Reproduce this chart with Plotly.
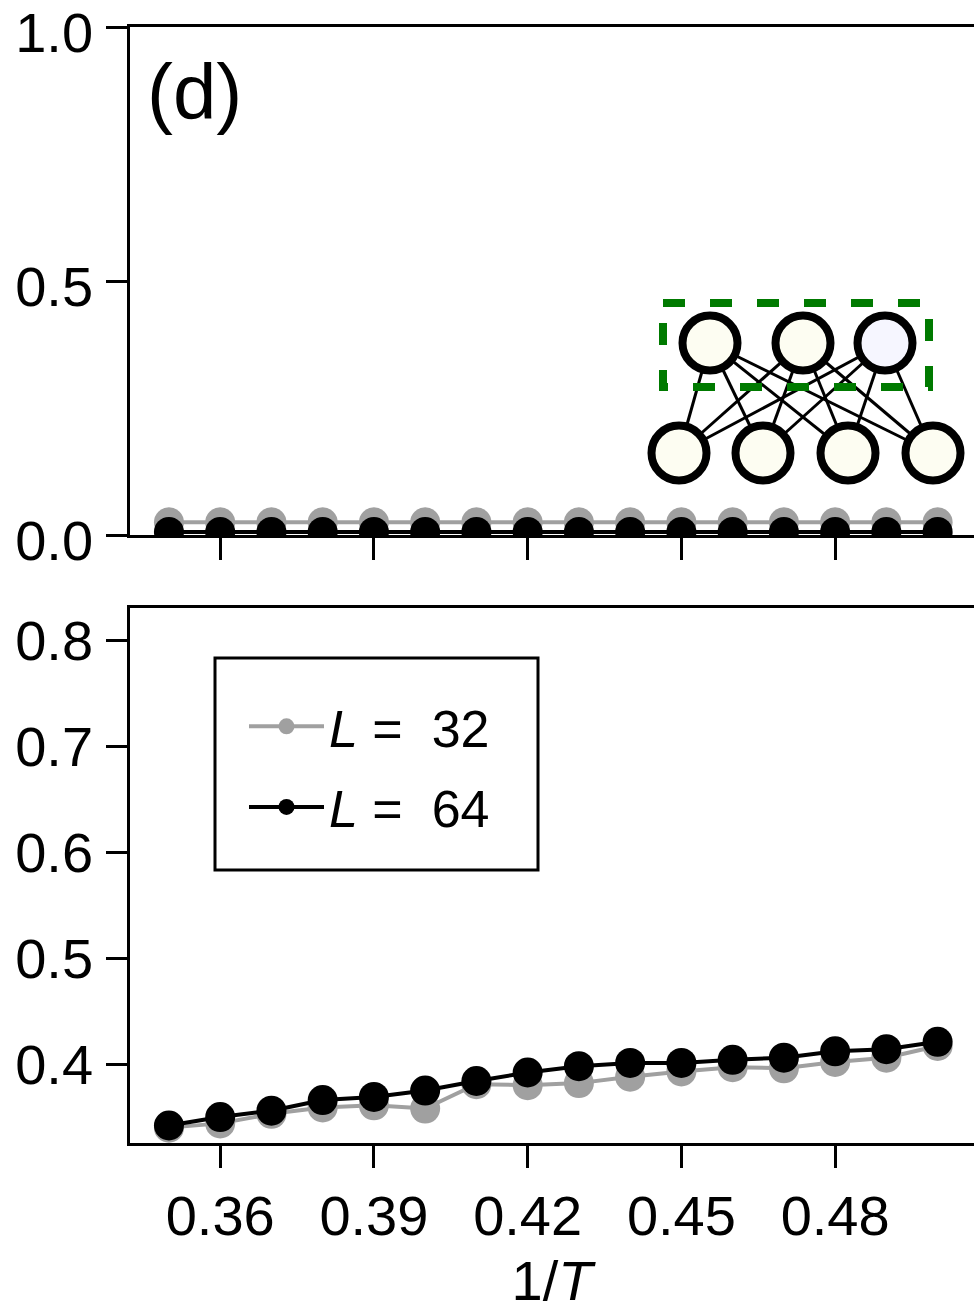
import plotly.graph_objects as go

# ---------------- data ----------------
inv_T = [0.35, 0.36, 0.37, 0.38, 0.39, 0.40, 0.41, 0.42,
         0.43, 0.44, 0.45, 0.46, 0.47, 0.48, 0.49, 0.50]

# top panel (d)
top_L32 = [0.025] * 16
top_L64 = [0.006] * 16

# bottom panel
bot_L32 = [0.340, 0.344, 0.353, 0.359, 0.361, 0.358, 0.381, 0.380,
           0.382, 0.388, 0.393, 0.397, 0.396, 0.402, 0.406, 0.417]
bot_L64 = [0.342, 0.350, 0.356, 0.366, 0.369, 0.375, 0.384, 0.392,
           0.398, 0.401, 0.401, 0.404, 0.406, 0.412, 0.414, 0.421]

series_names = ["<i>L</i> = \u00a032", "<i>L</i> = \u00a064"]
series_colors = ["#a0a0a0", "#000000"]

x_tickvals = [0.36, 0.39, 0.42, 0.45, 0.48]
x_ticktext = ["0.36", "0.39", "0.42", "0.45", "0.48"]
top_yticks = [0.0, 0.5, 1.0]
top_yticktext = ["0.0", "0.5", "1.0"]
bot_yticks = [0.4, 0.5, 0.6, 0.7, 0.8]
bot_yticktext = ["0.4", "0.5", "0.6", "0.7", "0.8"]

# network inset (inset units)
net_top_x = [0.70, 1.63, 2.45]
net_top_y = [1.10, 1.10, 1.10]
net_top_fill = ["#fdfdf2", "#fdfdf2", "#f6f6ff"]
net_bot_x = [0.39, 1.23, 2.08, 2.93]
net_bot_y = [0.0, 0.0, 0.0, 0.0]
net_bot_fill = ["#fdfdf2"] * 4
box_x = [0.23, 2.89, 2.89, 0.23, 0.23]
box_y = [1.50, 1.50, 0.66, 0.66, 1.50]

FONT = "Liberation Sans, Arial, sans-serif"
fig = go.Figure()

# ---------- top panel ----------
for vals, name, col in zip([top_L32, top_L64], series_names, series_colors):
    fig.add_trace(go.Scatter(
        x=inv_T, y=vals, mode="lines+markers", name=name,
        line=dict(color=col, width=4), marker=dict(color=col, size=30),
        xaxis="x", yaxis="y", showlegend=False, cliponaxis=True))

# ---------- bottom panel ----------
for i, (vals, name, col) in enumerate(zip([bot_L32, bot_L64], series_names, series_colors)):
    fig.add_trace(go.Scatter(
        x=inv_T, y=vals, mode="lines+markers", name=name,
        legendgroup="g%d" % i,
        line=dict(color=col, width=4), marker=dict(color=col, size=30),
        xaxis="x2", yaxis="y2", showlegend=True, cliponaxis=False))

# ---------- network inset ----------
ex, ey = [], []
for tx, ty in zip(net_top_x, net_top_y):
    for bx, by in zip(net_bot_x, net_bot_y):
        ex += [tx, bx, None]
        ey += [ty, by, None]
fig.add_trace(go.Scatter(x=ex, y=ey, mode="lines", line=dict(color="black", width=3),
                         xaxis="x3", yaxis="y3", showlegend=False, hoverinfo="skip"))
fig.add_trace(go.Scatter(x=box_x, y=box_y, mode="lines",
                         line=dict(color="#007a00", width=8, dash="22px,25px"),
                         xaxis="x3", yaxis="y3", showlegend=False, hoverinfo="skip"))
fig.add_trace(go.Scatter(x=net_top_x + net_bot_x, y=net_top_y + net_bot_y, mode="markers",
                         marker=dict(size=55, color=net_top_fill + net_bot_fill,
                                     line=dict(color="black", width=8)),
                         xaxis="x3", yaxis="y3", showlegend=False, hoverinfo="skip",
                         cliponaxis=False))

W, H = 974, 1312
L, R, T, B = 130, 0, 27, 169
ph = H - T - B  # 1116
pw = W - L - R  # 844

def py(pix):
    return (H - B - pix) / ph

def px(pix):
    return (pix - L) / pw

axis_common = dict(showline=True, linecolor="black", linewidth=2.5,
                   ticks="outside", tickwidth=2.5, tickcolor="black",
                   showgrid=False, zeroline=False, ticklabeloverflow="allow",
                   automargin=False,
                   tickfont=dict(family=FONT, size=56, color="black"))

fig.update_layout(
    width=W, height=H,
    margin=dict(l=L, r=R, t=T, b=B, pad=0, autoexpand=False),
    paper_bgcolor="white", plot_bgcolor="white",
    font=dict(family=FONT, color="black"),
    xaxis=dict(domain=[0, 1], range=[0.3424, 0.5071], anchor="y", mirror=True,
               tickvals=x_tickvals, showticklabels=False, ticklen=22, **axis_common),
    yaxis=dict(domain=[py(535), 1.0], range=[0, 1.0], anchor="x",
               tickvals=top_yticks, ticktext=top_yticktext, ticklen=21,
               ticklabelstandoff=2, ticklabelshift=5, **axis_common),
    xaxis2=dict(domain=[0, 1], range=[0.3424, 0.5071], anchor="y2", mirror=True,
                tickvals=x_tickvals, ticktext=x_ticktext, ticklen=22,
                ticklabelstandoff=0,
                title=dict(text="1/<i>T</i>", font=dict(family=FONT, size=56), standoff=46),
                **axis_common),
    yaxis2=dict(domain=[0, py(608)], range=[0.3255, 0.8302], anchor="x2",
                tickvals=bot_yticks, ticktext=bot_yticktext, ticklen=21,
                ticklabelstandoff=2, **axis_common),
    xaxis3=dict(domain=[px(640), 1.0], range=[0, 3.34], anchor="y3", visible=False,
                fixedrange=True),
    yaxis3=dict(domain=[py(490), py(290)], range=[-0.37, 1.63], anchor="x3",
                visible=False, fixedrange=True),
    showlegend=True,
    legend=dict(x=px(244), y=py(686), xanchor="left", yanchor="top",
                bgcolor="rgba(0,0,0,0)", borderwidth=0, tracegroupgap=10,
                font=dict(family=FONT, size=52, color="black"),
                itemwidth=75),
    shapes=[dict(type="rect", xref="paper", yref="paper",
                 x0=px(215), x1=px(538), y0=py(870), y1=py(658),
                 line=dict(color="black", width=3), fillcolor="white", layer="below")],
    annotations=[dict(text="(d)", xref="paper", yref="paper", x=px(145), y=py(92),
                      xanchor="left", yanchor="middle", showarrow=False,
                      font=dict(family=FONT, size=78, color="black"))],
)

fig.write_html("out.html")
